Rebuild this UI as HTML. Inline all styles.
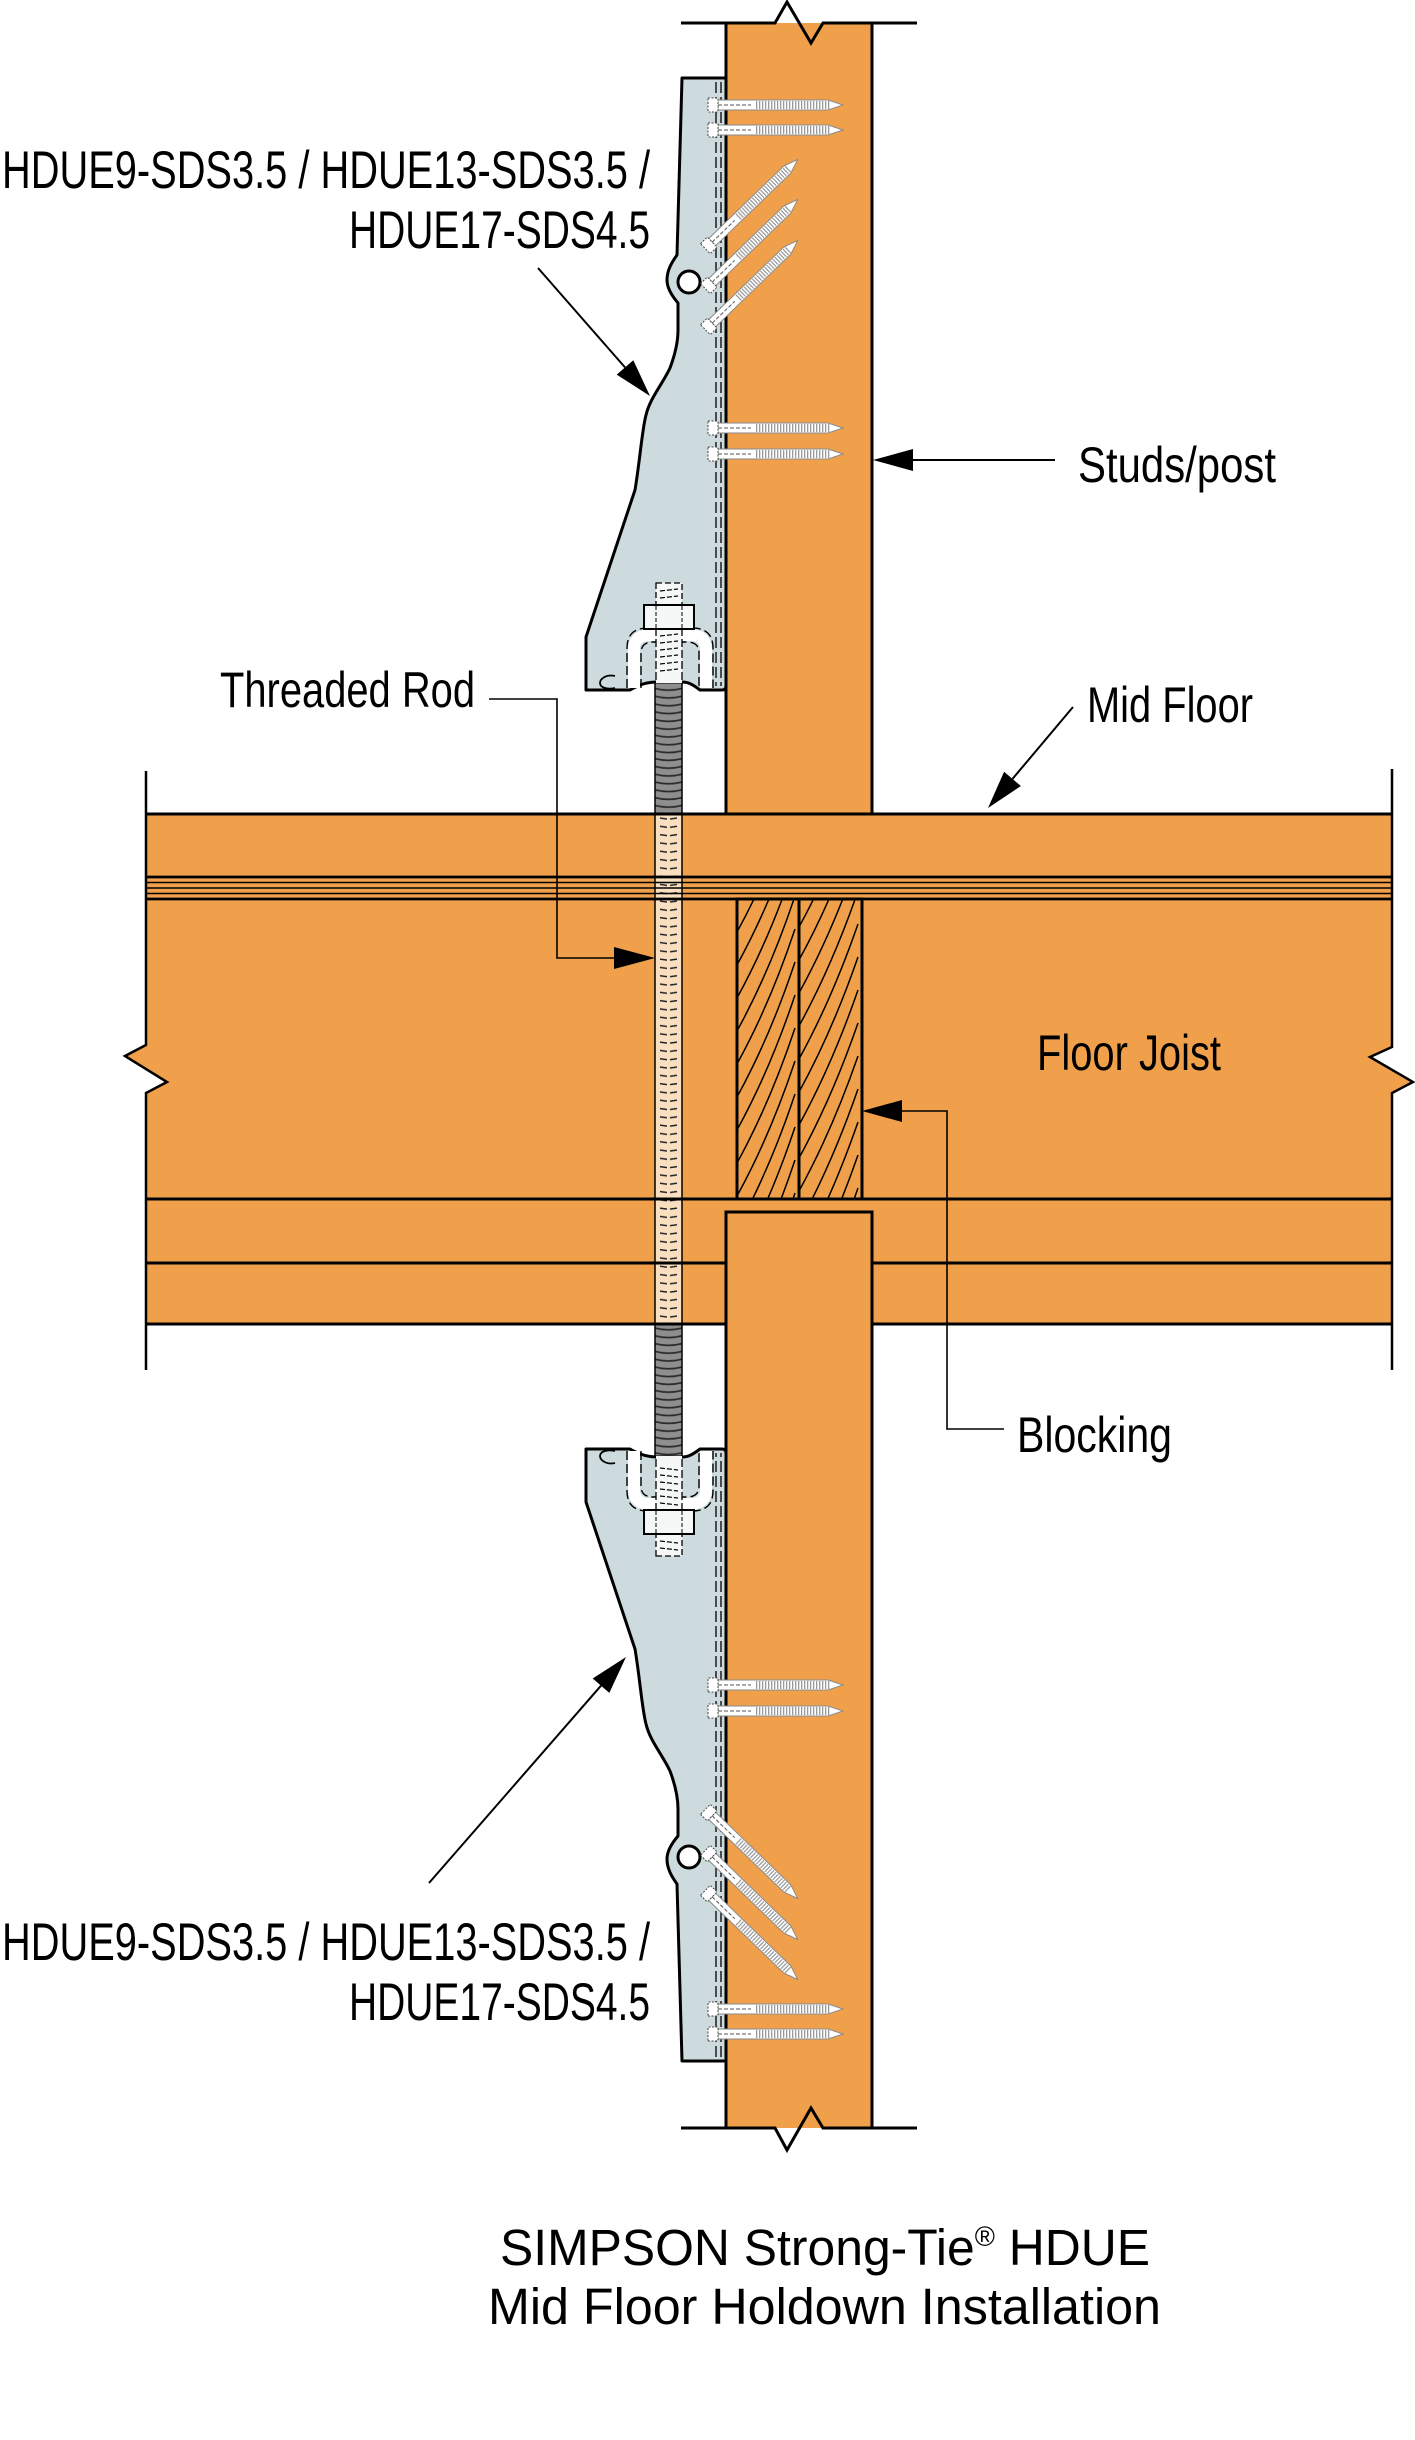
<!DOCTYPE html>
<html>
<head>
<meta charset="utf-8">
<style>
  html, body { margin: 0; padding: 0; background: #ffffff; }
  svg { display: block; }
  text { font-family: "Liberation Sans", Arial, sans-serif; fill: #000; }
</style>
</head>
<body>
<svg width="1415" height="2440" viewBox="0 0 1415 2440" xmlns="http://www.w3.org/2000/svg">
  <defs>
    <pattern id="greyThr" x="655" y="0" width="27" height="7.8" patternUnits="userSpaceOnUse">
      <rect width="27" height="7.8" fill="#8e8e8e"/>
      <path d="M0,2 Q13.5,5.5 27,2" stroke="#2b2b2b" stroke-width="1.7" fill="none"/>
    </pattern>
    <pattern id="peachThr" x="655" y="814" width="27" height="8.3" patternUnits="userSpaceOnUse">
      <rect width="27" height="8.3" fill="#F9DFC0"/>
      <path d="M5,4 L12,5 M15,5 L22,4" stroke="#222" stroke-width="1.5"/>
    </pattern>
    <clipPath id="blkL"><rect x="737" y="899" width="62" height="300"/></clipPath>
    <clipPath id="blkR"><rect x="799" y="899" width="63" height="300"/></clipPath>

    <g id="hs">
      <path d="M12,-5 L122,-5 L137,0 L122,5 L12,5 Z" fill="#fff" stroke="#8a8a8a" stroke-width="1"/>
      <line x1="50" y1="0" x2="124" y2="0" stroke="#9a9a9a" stroke-width="8" stroke-dasharray="1.3,1.7"/>
      <line x1="12" y1="0" x2="45" y2="0" stroke="#555" stroke-width="1" stroke-dasharray="4,2"/>
      <rect x="2" y="-7" width="10" height="14" fill="#fff" stroke="#444" stroke-width="1" stroke-dasharray="2,1.5"/>
    </g>

    <g id="brk">
      <path d="M682,78 L726,78 L726,686 Q726,690 722,690 L700,690 C692,684 688,682 682,682 L656,682 C648,682 640,684 630,690 L586,690 L586,637 L635,490 C640,460 642,430 646,415 C650,398 662,385 670,368 C676,352 678,340 678,330 L678,303 C672,296 667,288 667,280 C667,270 672,262 677,255 Z"
            fill="#CDDBDE" stroke="#000" stroke-width="3" stroke-linejoin="round"/>
      <circle cx="689" cy="282" r="11" fill="#fff" stroke="#000" stroke-width="3"/>
      <line x1="716" y1="82" x2="716" y2="686" stroke="#000" stroke-width="1.3" stroke-dasharray="11,4"/>
      <line x1="721" y1="82" x2="721" y2="686" stroke="#000" stroke-width="1.3" stroke-dasharray="11,4"/>
      <!-- screws -->
      <use href="#hs" transform="translate(706,105)"/>
      <use href="#hs" transform="translate(706,130)"/>
      <use href="#hs" transform="translate(706,428)"/>
      <use href="#hs" transform="translate(706,454)"/>
      <use href="#hs" transform="translate(704,250) rotate(-44) scale(0.95,1)"/>
      <use href="#hs" transform="translate(704,290) rotate(-44) scale(0.95,1)"/>
      <use href="#hs" transform="translate(704,331) rotate(-44) scale(0.95,1)"/>
      <!-- U seat -->
      <path d="M634,688 L634,650 Q634,635 650,635 L690,635 Q706,635 706,650 L706,688" stroke="#fff" stroke-width="12" fill="none"/>
      <path d="M641,688 L641,653 Q641,642 653,642 L687,642 Q699,642 699,653 L699,688" stroke="#000" stroke-width="1.4" fill="none" stroke-dasharray="9,4"/>
      <path d="M627,688 L627,648 Q627,628 648,628 L692,628 Q713,628 713,648 L713,688" stroke="#000" stroke-width="1.4" fill="none" stroke-dasharray="9,4"/>
      <!-- rod inside bracket -->
      <rect x="656" y="628" width="26" height="55" fill="#f6f8f8"/>
      <line x1="656" y1="628" x2="656" y2="683" stroke="#000" stroke-width="1.3" stroke-dasharray="8,3"/>
      <line x1="682" y1="628" x2="682" y2="683" stroke="#000" stroke-width="1.3" stroke-dasharray="8,3"/>
      <path d="M660,636 L678,634 M660,643 L678,641 M660,650 L678,648 M660,657 L678,655 M660,664 L678,662 M660,671 L678,669" stroke="#000" stroke-width="1.2" stroke-dasharray="5,2"/>
      <!-- rod above nut -->
      <rect x="656" y="583" width="26" height="22" fill="#f6f8f8" stroke="#000" stroke-width="1.3" stroke-dasharray="6,3"/>
      <path d="M660,591 L678,589 M660,598 L678,596" stroke="#000" stroke-width="1.2" stroke-dasharray="5,2"/>
      <!-- nut -->
      <rect x="644" y="605" width="50" height="24" fill="#f6f8f8" stroke="#000" stroke-width="2"/>
      <line x1="656" y1="606" x2="656" y2="628" stroke="#000" stroke-width="1" stroke-dasharray="4,2"/>
      <line x1="682" y1="606" x2="682" y2="628" stroke="#000" stroke-width="1" stroke-dasharray="4,2"/>
      <!-- C mark -->
      <path d="M615,676 C606,674 600,679 600,683 C600,687 606,690 615,688" stroke="#000" stroke-width="1.8" fill="none"/>
    </g>
  </defs>

  <!-- Floor fill -->
  <path d="M146,814 L1392,814 L1392,1047 L1370,1057 L1413,1082 L1392,1093 L1392,1324 L146,1324 L146,1093 L167,1082 L125,1056 L146,1045 Z" fill="#F0A04B"/>

  <!-- Blocking grain -->
  <g clip-path="url(#blkL)" stroke="#000" stroke-width="1.5" fill="none">
    <path d="M737,932 Q770,872 795,797"/>
    <path d="M737,965 Q770,905 795,830"/>
    <path d="M737,998 Q770,938 795,863"/>
    <path d="M737,1031 Q770,971 795,896"/>
    <path d="M737,1064 Q770,1004 795,929"/>
    <path d="M737,1097 Q770,1037 795,962"/>
    <path d="M737,1130 Q770,1070 795,995"/>
    <path d="M737,1163 Q770,1103 795,1028"/>
    <path d="M737,1196 Q770,1136 795,1061"/>
    <path d="M737,1229 Q770,1169 795,1094"/>
    <path d="M737,1262 Q770,1202 795,1127"/>
    <path d="M737,1295 Q770,1235 795,1160"/>
    <path d="M737,1328 Q770,1268 795,1193"/>
  </g>
  <g clip-path="url(#blkR)" stroke="#000" stroke-width="1.5" fill="none">
    <path d="M799,927 Q832,867 858,792"/>
    <path d="M799,960 Q832,900 858,825"/>
    <path d="M799,993 Q832,933 858,858"/>
    <path d="M799,1026 Q832,966 858,891"/>
    <path d="M799,1059 Q832,999 858,924"/>
    <path d="M799,1092 Q832,1032 858,957"/>
    <path d="M799,1125 Q832,1065 858,990"/>
    <path d="M799,1158 Q832,1098 858,1023"/>
    <path d="M799,1191 Q832,1131 858,1056"/>
    <path d="M799,1224 Q832,1164 858,1089"/>
    <path d="M799,1257 Q832,1197 858,1122"/>
    <path d="M799,1290 Q832,1230 858,1155"/>
    <path d="M799,1323 Q832,1263 858,1188"/>
  </g>
  <rect x="737" y="899" width="62" height="300" fill="none" stroke="#000" stroke-width="3"/>
  <rect x="799" y="899" width="63" height="300" fill="none" stroke="#000" stroke-width="3"/>

  <!-- Posts fills -->
  <rect x="726" y="23" width="146" height="791" fill="#F0A04B"/>
  <rect x="726" y="1212" width="146" height="916" fill="#F0A04B"/>

  <!-- Rod in floor -->
  <rect x="655" y="814" width="27" height="510" fill="url(#peachThr)"/>
  <line x1="655" y1="814" x2="655" y2="1324" stroke="#000" stroke-width="1.5"/>
  <line x1="682" y1="814" x2="682" y2="1324" stroke="#000" stroke-width="1.5"/>

  <!-- Grey rod parts -->
  <rect x="655" y="680" width="27" height="134" fill="url(#greyThr)" stroke="#000" stroke-width="1.5"/>
  <rect x="655" y="1324" width="27" height="135" fill="url(#greyThr)" stroke="#000" stroke-width="1.5"/>

  <!-- Floor lines -->
  <g stroke="#000" fill="none">
    <line x1="146" y1="814" x2="1392" y2="814" stroke-width="3"/>
    <line x1="146" y1="877" x2="1392" y2="877" stroke-width="2.8"/>
    <line x1="146" y1="882.5" x2="1392" y2="882.5" stroke-width="1.4"/>
    <line x1="146" y1="888" x2="1392" y2="888" stroke-width="1.4"/>
    <line x1="146" y1="893.5" x2="1392" y2="893.5" stroke-width="1.4"/>
    <line x1="146" y1="899" x2="1392" y2="899" stroke-width="2.8"/>
    <line x1="146" y1="1199" x2="1392" y2="1199" stroke-width="3"/>
    <line x1="146" y1="1263" x2="726" y2="1263" stroke-width="3"/>
    <line x1="872" y1="1263" x2="1392" y2="1263" stroke-width="3"/>
    <line x1="146" y1="1324" x2="726" y2="1324" stroke-width="3"/>
    <line x1="872" y1="1324" x2="1392" y2="1324" stroke-width="3"/>
    <polyline points="146,771 146,1045 125,1056 167,1082 146,1093 146,1370" stroke-width="2.5"/>
    <polyline points="1392,769 1392,1047 1370,1057 1413,1082 1392,1093 1392,1370" stroke-width="2.5"/>
  </g>

  <!-- Post outlines -->
  <g stroke="#000" fill="none" stroke-width="3">
    <line x1="726" y1="23" x2="726" y2="814"/>
    <line x1="872" y1="23" x2="872" y2="814"/>
    <polyline points="681,23 775,23 787,2 811,43 823,23 917,23"/>
    <polyline points="726,2128 726,1212 872,1212 872,2128"/>
    <polyline points="681,2128 775,2128 787,2150 811,2108 823,2128 917,2128"/>
  </g>

  <!-- Brackets -->
  <use href="#brk"/>
  <use href="#brk" transform="matrix(1 0 0 -1 0 2139)"/>

  <!-- Leaders and arrows -->
  <g stroke="#000" fill="none">
    <line x1="538" y1="268" x2="625" y2="367.4" stroke-width="2"/>
    <line x1="429" y1="1883" x2="601" y2="1685.7" stroke-width="2"/>
    <line x1="1073" y1="707" x2="1012.5" y2="778.9" stroke-width="2"/>
    <line x1="913" y1="460" x2="1055" y2="460" stroke-width="2"/>
    <polyline points="489,699 557,699 557,958 614,958" stroke-width="1.6"/>
    <polyline points="902,1111 947,1111 947,1429 1004,1429" stroke-width="1.6"/>
  </g>
  <g fill="#000">
    <polygon points="650,396 633.3,360.2 616.7,374.6"/>
    <polygon points="626,1657 609.3,1692.9 592.7,1678.5"/>
    <polygon points="988,808 1020.9,786 1004.1,771.8"/>
    <polygon points="873,460 913,449 913,471"/>
    <polygon points="655,958 614,947 614,969"/>
    <polygon points="862,1111 902,1100 902,1122"/>
  </g>

  <!-- Labels -->
  <text x="2" y="188" font-size="53" textLength="648" lengthAdjust="spacingAndGlyphs">HDUE9-SDS3.5 / HDUE13-SDS3.5 /</text>
  <text x="349" y="248" font-size="53" textLength="301" lengthAdjust="spacingAndGlyphs">HDUE17-SDS4.5</text>
  <text x="2" y="1960" font-size="53" textLength="648" lengthAdjust="spacingAndGlyphs">HDUE9-SDS3.5 / HDUE13-SDS3.5 /</text>
  <text x="349" y="2020" font-size="53" textLength="301" lengthAdjust="spacingAndGlyphs">HDUE17-SDS4.5</text>
  <text x="1078" y="482" font-size="50" textLength="198" lengthAdjust="spacingAndGlyphs">Studs/post</text>
  <text x="220" y="707" font-size="50" textLength="255" lengthAdjust="spacingAndGlyphs">Threaded Rod</text>
  <text x="1087" y="722" font-size="50" textLength="166" lengthAdjust="spacingAndGlyphs">Mid Floor</text>
  <text x="1037" y="1070" font-size="50" textLength="184" lengthAdjust="spacingAndGlyphs">Floor Joist</text>
  <text x="1017" y="1452" font-size="50" textLength="155" lengthAdjust="spacingAndGlyphs">Blocking</text>

  <!-- Title -->
  <text x="500" y="2265" font-size="51" textLength="650" lengthAdjust="spacingAndGlyphs">SIMPSON Strong-Tie<tspan font-size="28" dy="-19">®</tspan><tspan dy="19"> HDUE</tspan></text>
  <text x="488" y="2324" font-size="51" textLength="673" lengthAdjust="spacingAndGlyphs">Mid Floor Holdown Installation</text>
</svg>
</body>
</html>
